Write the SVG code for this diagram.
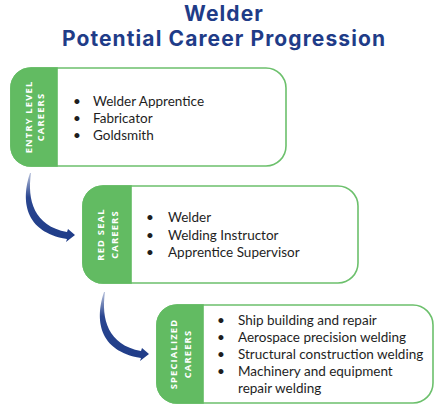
<svg xmlns="http://www.w3.org/2000/svg" width="445" height="414" viewBox="0 0 445 414">
<defs>
<style>
.title{font-family:Inter,"Liberation Sans",sans-serif;font-weight:700;font-size:21px;letter-spacing:1.1px;fill:#1f3c88;text-anchor:middle}
.box{fill:#fff;stroke:#6cc06c;stroke-width:1.6}
.tab{fill:#62bb62;stroke:#62bb62;stroke-width:1.6}
.tl{font-family:"Open Sans","Liberation Sans",sans-serif;font-weight:700;font-size:9.3px;letter-spacing:1.2px;fill:#fff;text-anchor:middle}
.it{font-family:Lato,"Liberation Sans",sans-serif;font-size:13.5px;fill:#1e1e1e}
.arr{fill:url(#ag)}
</style>
<linearGradient id="ag" x1="0" y1="0" x2="0" y2="1">
<stop offset="0" stop-color="#b8c2dc"/>
<stop offset="0.35" stop-color="#2a4690"/>
<stop offset="1" stop-color="#1f3c88"/>
</linearGradient>
<path id="arrow" d="M30,173 C21,200 24,232 67,239 L66,242 L75,235 L68,229 L67,232 C34,226 27,200 31,173 Z"/>
</defs>
<rect width="445" height="414" fill="#fff"/>
<g id="title">
<text class="title" x="224" y="21">Welder</text>
<text class="title" x="224" y="46">Potential Career Progression</text>
</g>
<g id="connectors">
<use href="#arrow" class="arr"/>
<use href="#arrow" class="arr" transform="translate(74,119)"/>
</g>
<g id="entry">
<rect class="box" x="11" y="68" width="275" height="98" rx="20"/>
<path class="tab" d="M57,68 H31 A20,20 0 0 0 11,88 V146 A20,20 0 0 0 31,166 H57 Z"/>
<text class="tl" transform="translate(31.5,117) rotate(-90)">ENTRY LEVEL</text>
<text class="tl" transform="translate(43.5,117) rotate(-90)">CAREERS</text>
<text class="it" x="73" y="106">•</text><text class="it" x="93" y="106">Welder Apprentice</text>
<text class="it" x="73" y="123">•</text><text class="it" x="93" y="123">Fabricator</text>
<text class="it" x="73" y="140">•</text><text class="it" x="93" y="140">Goldsmith</text>
</g>
<g id="redseal">
<rect class="box" x="83" y="186" width="275" height="97" rx="20"/>
<path class="tab" d="M131,186 H103 A20,20 0 0 0 83,206 V263 A20,20 0 0 0 103,283 H131 Z"/>
<text class="tl" transform="translate(104,234.5) rotate(-90)">RED SEAL</text>
<text class="tl" transform="translate(117.5,234.5) rotate(-90)">CAREERS</text>
<text class="it" x="146" y="222">•</text><text class="it" x="168" y="222">Welder</text>
<text class="it" x="146" y="239.5">•</text><text class="it" x="168" y="239.5">Welding Instructor</text>
<text class="it" x="146" y="257">•</text><text class="it" x="168" y="257">Apprentice Supervisor</text>
</g>
<g id="specialized">
<rect class="box" x="157" y="305" width="276" height="98" rx="20"/>
<path class="tab" d="M203,305 H177 A20,20 0 0 0 157,325 V383 A20,20 0 0 0 177,403 H203 Z"/>
<text class="tl" transform="translate(176.5,354) rotate(-90)">SPECIALIZED</text>
<text class="tl" transform="translate(190.5,354) rotate(-90)">CAREERS</text>
<text class="it" x="217" y="325">•</text><text class="it" x="238" y="325">Ship building and repair</text>
<text class="it" x="217" y="342">•</text><text class="it" x="238" y="342">Aerospace precision welding</text>
<text class="it" x="217" y="359">•</text><text class="it" x="238" y="359">Structural construction welding</text>
<text class="it" x="217" y="376">•</text><text class="it" x="238" y="376">Machinery and equipment</text>
<text class="it" x="238" y="393">repair welding</text>
</g>
</svg>
